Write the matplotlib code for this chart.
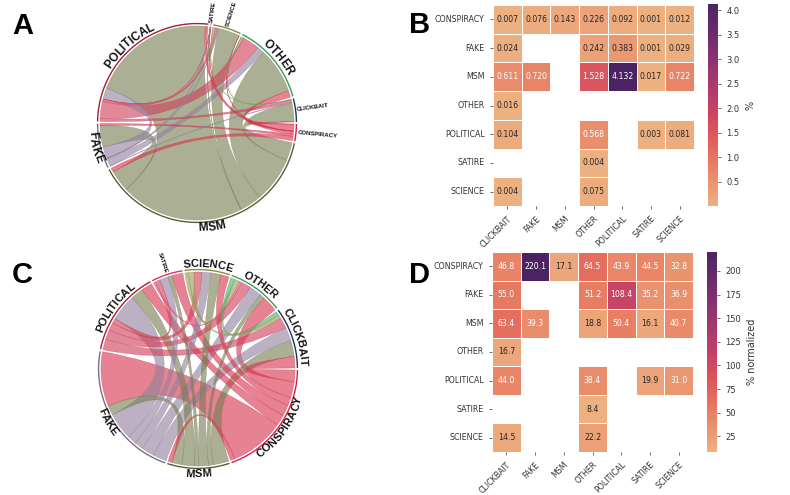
"""Chord diagrams (A, C) and source->target heatmaps (B, D) of link shares."""
import numpy as np
import pandas as pd
import matplotlib
matplotlib.use("Agg")
import matplotlib.pyplot as plt
import seaborn as sns
from matplotlib.path import Path
from matplotlib.patches import PathPatch
from matplotlib.font_manager import FontProperties
from matplotlib.textpath import TextToPath

nan = np.nan

# heatmap rows = source category, columns = target category
ROWS = ["CONSPIRACY", "FAKE", "MSM", "OTHER", "POLITICAL", "SATIRE", "SCIENCE"]
COLS = ["CLICKBAIT", "FAKE", "MSM", "OTHER", "POLITICAL", "SATIRE", "SCIENCE"]

PCT = [
    [0.007, 0.076, 0.143, 0.226, 0.092, 0.001, 0.012],
    [0.024, nan,   nan,   0.242, 0.383, 0.001, 0.029],
    [0.611, 0.720, nan,   1.528, 4.132, 0.017, 0.722],
    [0.016, nan,   nan,   nan,   nan,   nan,   nan],
    [0.104, nan,   nan,   0.568, nan,   0.003, 0.081],
    [nan,   nan,   nan,   0.004, nan,   nan,   nan],
    [0.004, nan,   nan,   0.075, nan,   nan,   nan],
]

PCT_NORM = [
    [46.8, 220.1, 17.1, 64.5, 43.9,  44.5, 32.8],
    [55.0, nan,   nan,  51.2, 108.4, 35.2, 36.9],
    [63.4, 39.3,  nan,  18.8, 50.4,  16.1, 40.7],
    [16.7, nan,   nan,  nan,  nan,   nan,  nan],
    [44.0, nan,   nan,  38.4, nan,   19.9, 31.0],
    [nan,  nan,   nan,  8.4,  nan,   nan,  nan],
    [14.5, nan,   nan,  22.2, nan,   nan,  nan],
]

# counter-clockwise order of the chord nodes, starting at 3 o'clock
NODE_ORDER = ["CLICKBAIT", "OTHER", "SCIENCE", "SATIRE", "POLITICAL", "FAKE", "MSM", "CONSPIRACY"]

ARC_COLORS = {
    "CLICKBAIT": "#1d3461", "OTHER": "#3a9a5b", "SCIENCE": "#8c8a45",
    "SATIRE": "#d6336c", "POLITICAL": "#a31d3d", "FAKE": "#7d6b8a",
    "MSM": "#5e5b33", "CONSPIRACY": "#dc1c44",
}
RIBBON_COLORS = {
    "CLICKBAIT": "#4a5f8a", "OTHER": "#4fae6a", "SCIENCE": "#9a9a5a",
    "SATIRE": "#e0507a", "POLITICAL": "#d0405a", "FAKE": "#92819d",
    "MSM": "#787e53", "CONSPIRACY": "#d73550",
}

DPI = 100
W_PX, H_PX = 790, 495
R_PX = 97          # chord circle radius in pixels
L = 1.45           # half-width of chord axes in data units
GAP = 1.2          # degrees between node arcs
LABEL_FONT = "Liberation Sans"
TTP = TextToPath()


def links_from(matrix):
    out = []
    for i, s in enumerate(ROWS):
        for j, t in enumerate(COLS):
            v = matrix[i][j]
            if not np.isnan(v):
                out.append((s, t, v))
    return out


def layout(links):
    n = len(NODE_ORDER)
    idx = {k: i for i, k in enumerate(NODE_ORDER)}
    size = {k: 0.0 for k in NODE_ORDER}
    for s, t, v in links:
        size[s] += v
        size[t] += v
    scale = (360 - n * GAP) / sum(size.values())
    spans, seg = {}, {}
    cur = GAP / 2
    for k in NODE_ORDER:
        inc = [l for l in range(len(links)) if links[l][1] == k]
        out = [l for l in range(len(links)) if links[l][0] == k]
        inc.sort(key=lambda l: -((idx[links[l][0]] - idx[k]) % n))
        out.sort(key=lambda l: -((idx[links[l][1]] - idx[k]) % n))
        pos = cur
        for l in inc:
            w = links[l][2] * scale
            seg[(l, "t")] = (pos, pos + w)
            pos += w
        for l in out:
            w = links[l][2] * scale
            seg[(l, "s")] = (pos, pos + w)
            pos += w
        spans[k] = (cur, pos)
        cur = pos + GAP
    return spans, seg


def arc_pts(a0, a1, r=1.0):
    t = np.radians(np.linspace(a0, a1, int(abs(a1 - a0)) + 3))
    return np.column_stack([r * np.cos(t), r * np.sin(t)])


def ribbon(ax, sa, ta, color):
    p1 = arc_pts(*sa)
    p2 = arc_pts(*ta)
    verts = list(p1) + [(0, 0), p2[0]] + list(p2[1:]) + [(0, 0), p1[0], p1[0]]
    codes = ([Path.MOVETO] + [Path.LINETO] * (len(p1) - 1) + [Path.CURVE3, Path.CURVE3]
             + [Path.LINETO] * (len(p2) - 1) + [Path.CURVE3, Path.CURVE3, Path.CLOSEPOLY])
    ax.add_patch(PathPatch(Path(verts, codes), facecolor=color, edgecolor=color,
                           lw=0.35, alpha=0.62))


def text_w(s, fp):
    if not s:
        return 0.0
    w, _, _ = TTP.get_text_width_height_descent(s, fp, ismath=False)
    return w * DPI / 72 / R_PX


def curved_label(ax, text, mid, r, size):
    fp = FontProperties(family=LABEL_FONT, weight="bold", size=size)
    total = np.degrees(text_w(text, fp) / r)
    upper = 0 < mid % 360 < 180
    for k, ch in enumerate(text):
        c = np.degrees((text_w(text[:k], fp) + text_w(text[:k + 1], fp)) / 2 / r)
        if upper:
            ang = mid + total / 2 - c
            rot = ang - 90
        else:
            ang = mid - total / 2 + c
            rot = ang + 90
        t = np.radians(ang)
        ax.text(r * np.cos(t), r * np.sin(t), ch, rotation=rot, rotation_mode="anchor",
                ha="center", va="center", fontproperties=fp, color="#111111")


def radial_label(ax, text, ang, r, size):
    a = ang % 360
    if 90 < a < 270:
        rot, ha = a - 180, "right"
    else:
        rot, ha = (a if a <= 90 else a - 360), "left"
    t = np.radians(a)
    ax.text(r * np.cos(t), r * np.sin(t), text, rotation=rot, rotation_mode="anchor",
            ha=ha, va="center", family=LABEL_FONT, weight="bold", size=size, color="#111111")


def chord(fig, cx, cy, matrix, label_size):
    side = 2 * L * R_PX
    ax = fig.add_axes([(cx - L * R_PX) / W_PX, (H_PX - cy - L * R_PX) / H_PX,
                       side / W_PX, side / H_PX])
    ax.set_xlim(-L, L)
    ax.set_ylim(-L, L)
    ax.axis("off")
    links = links_from(matrix)
    spans, seg = layout(links)
    order = sorted(range(len(links)), key=lambda l: -links[l][2])
    for l in order:
        ribbon(ax, seg[(l, "s")], seg[(l, "t")], RIBBON_COLORS[links[l][0]])
    for k, (a0, a1) in spans.items():
        p = arc_pts(a0, a1, 1.025)
        ax.plot(p[:, 0], p[:, 1], color=ARC_COLORS[k], lw=1.0, solid_capstyle="butt")
        mid = (a0 + a1) / 2
        if a1 - a0 >= 20:
            curved_label(ax, k, mid, 1.085, label_size)
        else:
            radial_label(ax, k, mid, 1.04, 4.3)
    return ax


def heatmap(fig, box, cbox, data, fmt, label, ticks):
    ax = fig.add_axes([box[0] / W_PX, (H_PX - box[3]) / H_PX,
                       (box[2] - box[0]) / W_PX, (box[3] - box[1]) / H_PX])
    cax = fig.add_axes([cbox[0] / W_PX, (H_PX - cbox[3]) / H_PX,
                        (cbox[2] - cbox[0]) / W_PX, (cbox[3] - cbox[1]) / H_PX])
    df = pd.DataFrame(data, index=ROWS, columns=COLS)
    sns.heatmap(df, ax=ax, cbar_ax=cax, cmap="flare", annot=True, fmt=fmt,
                annot_kws={"size": 5.6}, linewidths=0.6, linecolor="white",
                cbar_kws={"label": label, "ticks": ticks})
    ax.tick_params(labelsize=5.7, length=2.5, width=0.5, colors="#333333")
    ax.set_xticklabels(COLS, rotation=45, ha="right", rotation_mode="anchor")
    ax.set_yticklabels(ROWS, rotation=0)
    cax.tick_params(labelsize=6, length=2.5, width=0.5, colors="#333333")
    cax.yaxis.label.set_size(7)
    cax.yaxis.label.set_color("#333333")
    return ax


def main():
    fig = plt.figure(figsize=(W_PX / DPI, H_PX / DPI), dpi=DPI)

    chord(fig, 197, 123, PCT, 8.5)
    chord(fig, 198, 369, PCT_NORM, 8.0)

    heatmap(fig, (493, 5, 694, 206), (708, 4, 718, 206), PCT, ".3f", "%",
            [0.5, 1.0, 1.5, 2.0, 2.5, 3.0, 3.5, 4.0])
    heatmap(fig, (492, 252, 693, 452), (707, 252, 717, 452), PCT_NORM, ".1f",
            "% normalized", [25, 50, 75, 100, 125, 150, 175, 200])

    for letter, x, y in [("A", 12, 34), ("B", 409, 33), ("C", 12, 283), ("D", 409, 283)]:
        fig.text(x / W_PX, 1 - y / H_PX, letter, family=LABEL_FONT, weight="bold",
                 size=21, va="baseline", ha="left")

    fig.savefig("out.png", dpi=DPI)


if __name__ == "__main__":
    main()
